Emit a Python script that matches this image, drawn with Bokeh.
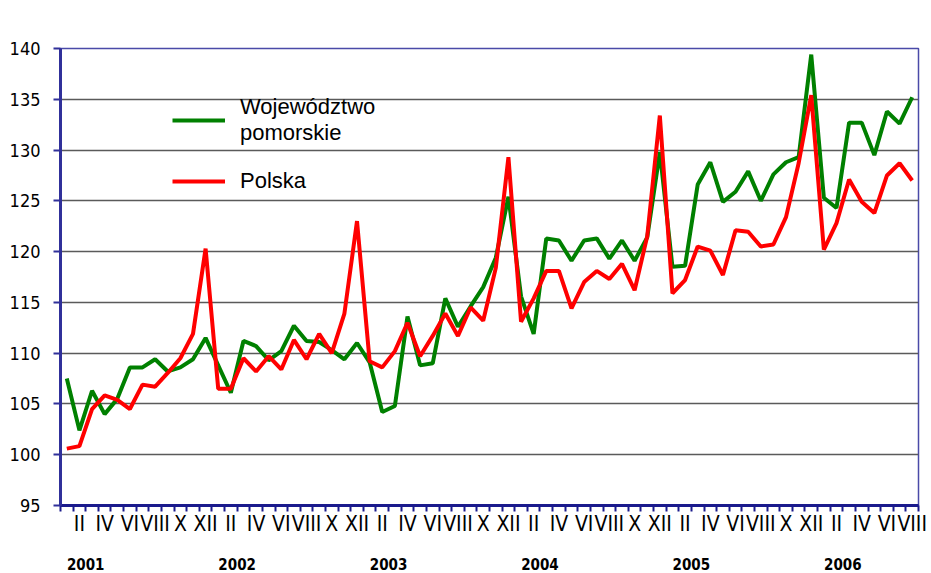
from bokeh.plotting import figure
from bokeh.models import FixedTicker, LinearAxis, Range1d, Legend, LegendItem, Label
from bokeh.embed import file_html
from bokeh.resources import INLINE

years = ["2001", "2002", "2003", "2004", "2005", "2006"]
roman = ["I", "II", "III", "IV", "V", "VI", "VII", "VIII", "IX", "X", "XI", "XII"]
y_ticks = [95, 100, 105, 110, 115, 120, 125, 130, 135, 140]

pomorskie = [
    107.5, 102.4, 106.3, 104.0, 105.5, 108.6, 108.6, 109.4, 108.2, 108.6, 109.4, 111.5,
    108.8, 106.1, 111.2, 110.7, 109.3, 110.2, 112.7, 111.2, 111.1, 110.3, 109.4, 111.0,
    109.1, 104.2, 104.8, 113.6, 108.8, 109.0, 115.4, 112.6, 114.6, 116.5, 119.4, 125.4,
    115.6, 111.9, 121.3, 121.1, 119.1, 121.1, 121.3, 119.3, 121.1, 119.1, 121.4, 129.8,
    118.5, 118.6, 126.6, 128.8, 124.9, 125.9, 127.9, 125.0, 127.6, 128.8, 129.3, 139.4,
    125.3, 124.3, 132.7, 132.7, 129.5, 133.8, 132.6, 135.2,
]
polska = [
    100.6, 100.85, 104.5, 105.85, 105.4, 104.5, 106.9, 106.7, 108.05, 109.5, 111.9, 120.3,
    106.5, 106.5, 109.5, 108.2, 109.7, 108.4, 111.3, 109.4, 111.9, 110.0, 113.9, 123.0,
    109.2, 108.6, 110.2, 113.0, 109.7, 111.7, 113.9, 111.7, 114.5, 113.2, 118.4, 129.3,
    113.1, 115.4, 118.1, 118.1, 114.4, 117.0, 118.1, 117.3, 118.8, 116.2, 121.5, 133.4,
    115.9, 117.2, 120.5, 120.1, 117.7, 122.1, 121.95, 120.5, 120.7, 123.4, 128.7, 135.4,
    120.2, 122.8, 127.1, 124.9, 123.8, 127.5, 128.7, 127.0,
]

n = len(pomorskie)
xs = [i + 0.5 for i in range(n)]
FONT = "Liberation Sans"
NARROW = "'Liberation Sans Narrow', 'DejaVu Sans Condensed', 'Liberation Sans'"
NAVY = "#1a1a8c"

p = figure(width=930, height=572, output_backend="svg", toolbar_location=None,
           x_range=Range1d(0, n), y_range=Range1d(95, 140),
           min_border_left=60, min_border_right=12, min_border_top=48,
           min_border_bottom=66, x_axis_location=None)
p.background_fill_color = "white"
p.border_fill_color = "white"
p.outline_line_color = "#4a4aa8"
p.outline_line_width = 1.5

# y axis
ya = p.yaxis[0]
ya.ticker = FixedTicker(ticks=y_ticks)
ya.axis_line_color = "#30309a"
ya.axis_line_width = 3
ya.major_tick_line_color = "#30309a"
ya.major_tick_line_width = 2
ya.major_tick_out = 7
ya.major_tick_in = 0
ya.minor_tick_line_color = None
ya.major_label_text_font = NARROW
ya.major_label_text_font_size = "18px"
ya.major_label_text_color = "black"
ya.major_label_standoff = 13

p.xgrid.grid_line_color = None
p.ygrid.grid_line_color = "#5a5a5a"
p.ygrid.grid_line_width = 1.5
p.ygrid.ticker = FixedTicker(ticks=y_ticks)

# month axis
month_ticks = [i + 0.5 for i in range(n) if i % 12 % 2 == 1]
month_labels = {i + 0.5: roman[i % 12] for i in range(n) if i % 12 % 2 == 1}
xa = LinearAxis(ticker=FixedTicker(ticks=month_ticks, minor_ticks=list(range(n + 1))),
                major_label_overrides=month_labels)
xa.axis_line_color = NAVY
xa.axis_line_width = 3
xa.major_tick_line_color = None
xa.major_tick_out = 0
xa.major_tick_in = 0
xa.minor_tick_line_color = NAVY
xa.minor_tick_line_width = 2
xa.minor_tick_out = 6
xa.minor_tick_in = 0
xa.major_label_text_font = NARROW
xa.major_label_text_font_size = "21px"
xa.major_label_text_color = "black"
xa.major_label_standoff = 0
p.add_layout(xa, "below")

# year axis
year_pos = [12 * k + 2.0 for k in range(len(years))]
ya2 = LinearAxis(ticker=FixedTicker(ticks=year_pos, minor_ticks=[]),
                 major_label_overrides={pos: y for pos, y in zip(year_pos, years)})
ya2.axis_line_color = None
ya2.major_tick_line_color = None
ya2.minor_tick_line_color = None
ya2.major_label_text_font = NARROW
ya2.major_label_text_font_style = "bold"
ya2.major_label_text_font_size = "15px"
ya2.major_label_text_color = "black"
ya2.major_label_standoff = 13
p.add_layout(ya2, "below")

g = p.line(xs, pomorskie, line_color="#008000", line_width=4)
r = p.line(xs, polska, line_color="#ff0000", line_width=4)

legend = Legend(items=[LegendItem(label="Województwo\npomorskie", renderers=[g]),
                       LegendItem(label="Polska", renderers=[r])],
                location=(112, 311))
legend.label_text_font = FONT
legend.label_text_font_size = "22px"
legend.label_text_color = "black"
legend.glyph_width = 53
legend.glyph_height = 20
legend.label_standoff = 15
legend.spacing = 22
legend.padding = 0
legend.margin = 0
legend.border_line_color = None
legend.background_fill_alpha = 0
p.add_layout(legend)

p.add_layout(Label(x=0.15, y=142.9, text="%", text_font=FONT, text_font_size="17px",
                   text_baseline="middle", text_color="black"))

open("out.html", "w").write(file_html(p, INLINE))
